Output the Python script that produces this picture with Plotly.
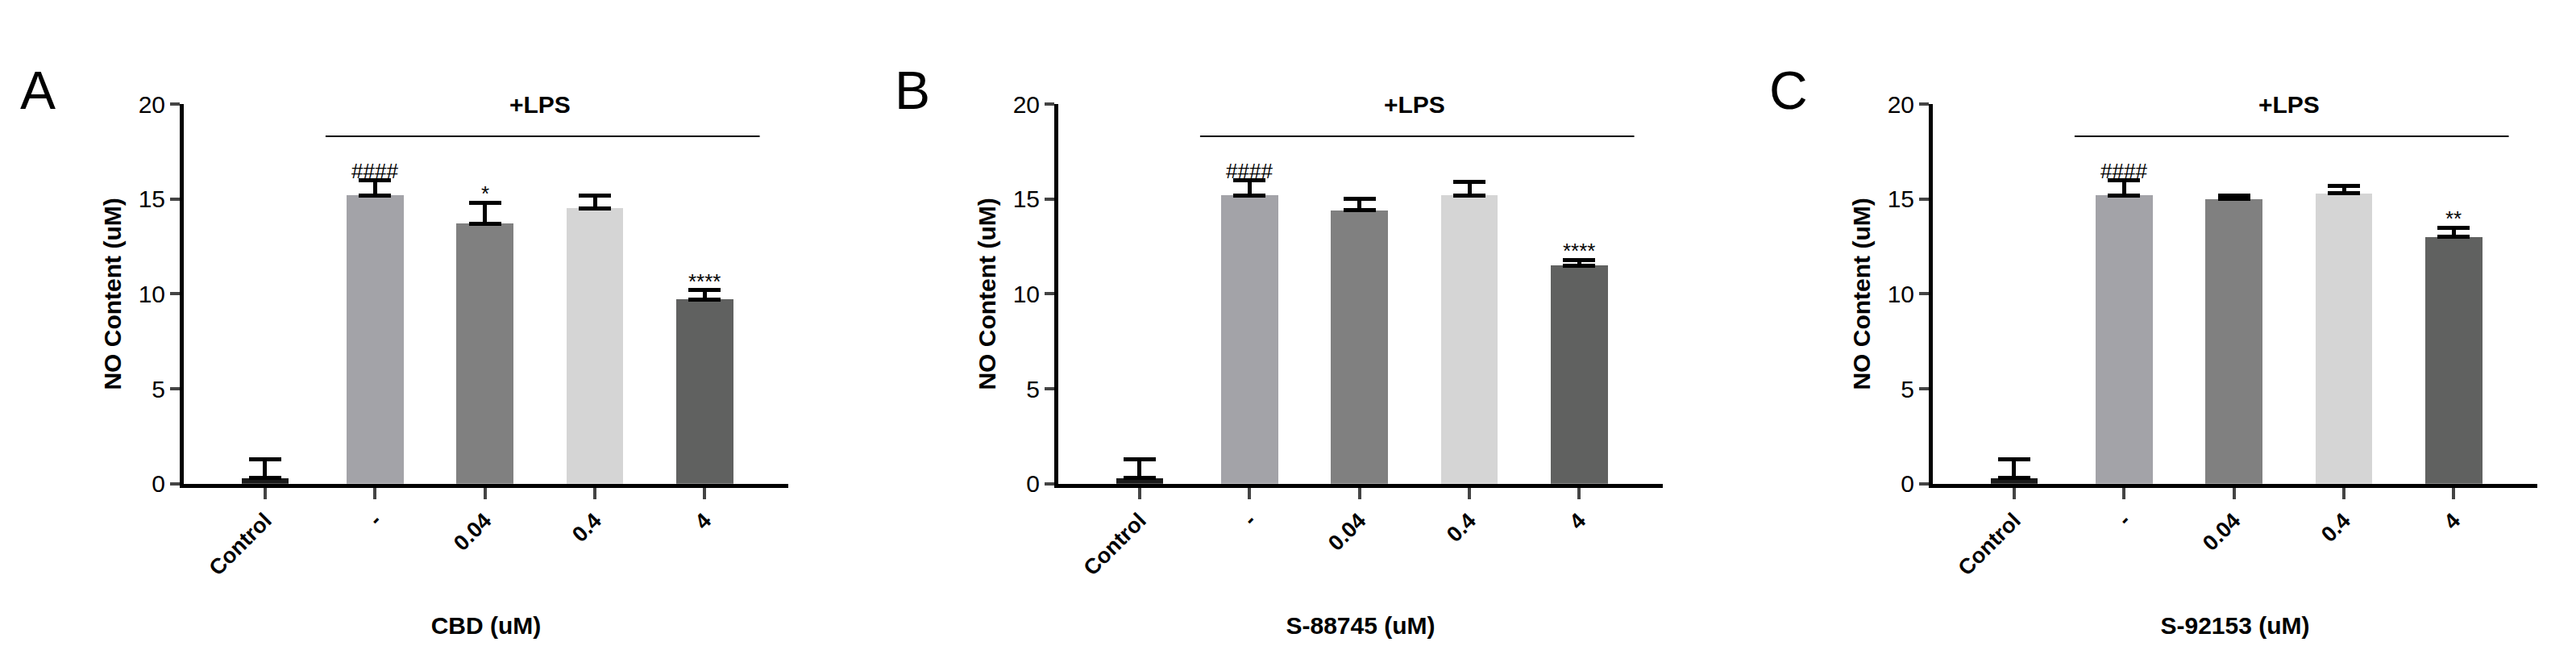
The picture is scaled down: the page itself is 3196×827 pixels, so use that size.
import plotly.graph_objects as go

cats = ["Control", "-", "0.04", "0.4", "4"]
colors = ["#1a1a1a", "#a3a3a8", "#808080", "#d5d5d5", "#606160"]
widths = [0.42, 0.52, 0.52, 0.52, 0.52]
means = {
    "A": [0.3, 15.2, 13.7, 14.5, 9.7],
    "B": [0.3, 15.2, 14.4, 15.2, 11.5],
    "C": [0.3, 15.2, 15.0, 15.3, 13.0],
}
errs = {
    "A": [1.0, 0.8, 1.1, 0.7, 0.5],
    "B": [1.0, 0.8, 0.6, 0.7, 0.3],
    "C": [1.0, 0.8, 0.2, 0.4, 0.5],
}
marks = {
    "A": ["", "####", "*", "", "****"],
    "B": ["", "####", "", "", "****"],
    "C": ["", "####", "", "", "**"],
}
xtitles = {"A": "CBD (uM)", "B": "S-88745 (uM)", "C": "S-92153 (uM)"}
yticks = [0, 5, 10, 15, 20]

W, H = 3196, 827
fig = go.Figure()
FONT = "Liberation Sans"
layout = dict(width=W, height=H, margin=dict(l=0, r=0, t=0, b=0),
              plot_bgcolor="white", paper_bgcolor="white", showlegend=False,
              font=dict(family=FONT, color="black"), bargap=0)
shapes, annots = [], []
for i, p in enumerate(["A", "B", "C"]):
    x0 = 220 + i * 1085
    x1 = x0 + 750
    xa = "xaxis" if i == 0 else f"xaxis{i+1}"
    ya = "yaxis" if i == 0 else f"yaxis{i+1}"
    xr = "x" if i == 0 else f"x{i+1}"
    yr = "y" if i == 0 else f"y{i+1}"
    fig.add_trace(go.Bar(
        x=list(range(5)), y=means[p], width=widths, marker_color=colors,
        marker_line_width=0, xaxis=xr, yaxis=yr,
        error_y=dict(type="data", array=errs[p], arrayminus=[0]*5, symmetric=False,
                     color="black", thickness=5, width=20)))
    layout[xa] = dict(domain=[x0 / W, x1 / W], range=[-0.74, 4.76], anchor=yr,
                      tickvals=list(range(5)), ticktext=[f"<b>{c}</b>" for c in cats],
                      tickangle=-45, ticks="outside", ticklen=14, tickwidth=4,
                      showline=True, linewidth=5, linecolor="black", showgrid=False,
                      zeroline=False, tickfont=dict(size=27, family=FONT),
                      title=dict(text=f"<b>{xtitles[p]}</b>", font=dict(size=30), standoff=48))
    layout[ya] = dict(domain=[0.276, 0.869], range=[0, 20], anchor=xr,
                      tickvals=yticks, ticks="outside", ticklen=12, tickwidth=4,
                      showline=True, linewidth=5, linecolor="black", showgrid=False,
                      zeroline=False, tickfont=dict(size=30, family=FONT),
                      title=dict(text="<b>NO Content (uM)</b>", font=dict(size=30), standoff=14))
    shapes.append(dict(type="line", xref=xr, yref=yr, x0=0.55, x1=4.5, y0=18.3, y1=18.3,
                       line=dict(color="black", width=2)))
    annots.append(dict(xref=xr, yref=yr, x=2.5, y=20.0, text="<b>+LPS</b>", showarrow=False,
                       font=dict(size=30)))
    for k in range(5):
        if marks[p][k]:
            annots.append(dict(xref=xr, yref=yr, x=k, y=means[p][k] + errs[p][k],
                               text=marks[p][k], showarrow=False, yanchor="bottom", yshift=-6,
                               font=dict(size=26)))
    annots.append(dict(xref="paper", yref="paper", x=(x0 - 205) / W, y=1 - 50 / H,
                       xanchor="left", yanchor="top", text=p, showarrow=False,
                       font=dict(size=66)))
layout["shapes"] = shapes
layout["annotations"] = annots
fig.update_layout(**layout)
fig.write_html("out.html")
